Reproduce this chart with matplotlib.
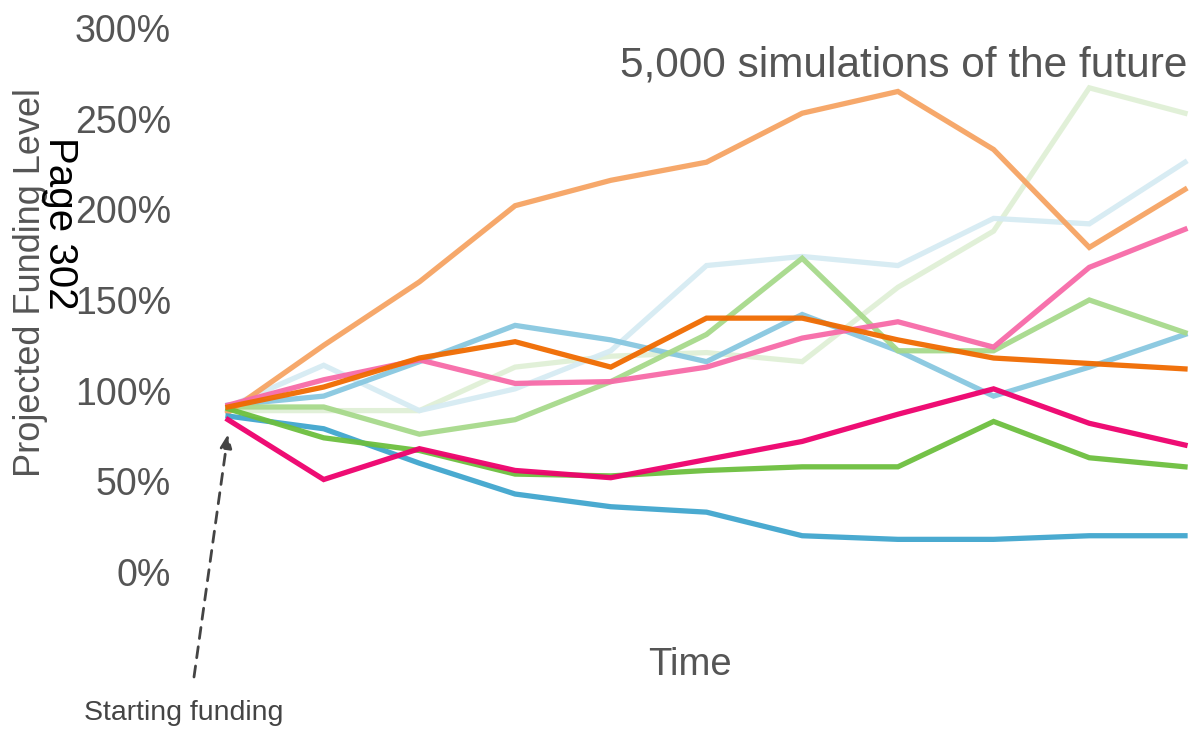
import matplotlib.pyplot as plt

plt.rcParams['font.family'] = ['Liberation Sans', 'DejaVu Sans']

# funding level paths (% of liabilities) at each time step
steps = list(range(11))
path_pale_green = [89, 89, 89, 113, 119, 121, 116, 157, 188, 267, 253]
path_pale_blue = [91, 114, 89, 101, 122, 169, 174, 169, 195, 192, 226]
path_mid_blue = [92, 97, 116, 136, 128, 116, 142, 122, 97, 113, 131]
path_mid_green = [91, 91, 76, 84, 105, 131, 173, 122, 122, 150, 132]
path_light_orange = [88, 125, 160, 202, 216, 226, 253, 265, 233, 179, 211]
path_pink = [92, 106, 117, 104, 105, 113, 129, 138, 124, 168, 189]
path_blue = [86, 79, 60, 43, 36, 33, 20, 18, 18, 20, 20]
path_green = [90, 74, 67, 54, 53, 56, 58, 58, 83, 63, 58]
path_magenta = [84, 51, 68, 56, 52, 62, 72, 87, 101, 82, 70]
path_orange = [91, 102, 118, 127, 113, 140, 140, 128, 118, 115, 112]

y_ticks = [0, 50, 100, 150, 200, 250, 300]

paths = [
    (path_pale_green, '#e0f0d6'),
    (path_pale_blue, '#d6ebf3'),
    (path_mid_blue, '#88c7e0'),
    (path_mid_green, '#a7d98b'),
    (path_light_orange, '#f6a463'),
    (path_pink, '#f76aa8'),
    (path_blue, '#40a6ce'),
    (path_green, '#6cbf3e'),
    (path_magenta, '#ee006c'),
    (path_orange, '#f06a00'),
]

W, H = 1193, 729
grey = '#555555'

fig = plt.figure(figsize=(W / 100, H / 100), dpi=100)
ax = fig.add_axes([228 / W, 1 - 572 / H, (1185 - 228) / W, (572 - 28) / H])

for vals, col in paths:
    ax.plot(steps, vals, color=col, lw=3.8, solid_joinstyle='miter', alpha=0.95, clip_on=False)

ax.set_xlim(0, 10)
ax.set_ylim(0, 300)
ax.set_xticks([])
ax.set_yticks(y_ticks)
ax.set_yticklabels([f'{v}%' for v in y_ticks])
ax.tick_params(axis='y', length=0, pad=41, labelsize=27, labelcolor=grey)
for side in ax.spines.values():
    side.set_visible(False)

fig.text(1187 / W, 1 - 66 / H, '5,000 simulations of the future', ha='right', va='center',
         fontsize=30.5, color=grey)
fig.text(690 / W, 1 - 665 / H, 'Time', ha='center', va='center', fontsize=27.5, color=grey)
fig.text(31 / W, 1 - 283 / H, 'Projected Funding Level', rotation=90, ha='center', va='center',
         fontsize=26, color=grey)
fig.text(60 / W, 1 - 223 / H, 'Page 302', rotation=270, ha='center', va='center',
         fontsize=29, color='black')

ax.annotate('', xy=(0, 76), xycoords='data', xytext=(194, H - 677), textcoords='figure pixels',
            arrowprops=dict(arrowstyle='-|>,head_length=0.8,head_width=0.35', color='#444444',
                            lw=2, linestyle=(0, (4, 3)), shrinkA=0, shrinkB=0))
fig.text(184 / W, 1 - 713 / H, 'Starting funding', ha='center', va='center',
         fontsize=20.5, color='#444444')

fig.savefig('out.png', dpi=100)
